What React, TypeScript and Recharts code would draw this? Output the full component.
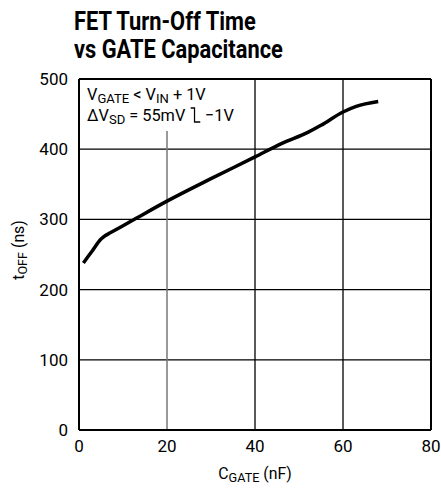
import React from "react";
import { LineChart, Line, XAxis, YAxis, CartesianGrid, ReferenceLine } from "recharts";

const cGate = [1, 3, 5, 6, 7, 12, 20, 30, 40, 46, 52, 55, 60, 63, 68];
const tOff = [238, 255, 272, 277, 280.5, 298, 326, 358, 389, 408, 424, 434, 453, 461, 468];
const xTicks = [0, 20, 40, 60, 80];
const yTicks = [0, 100, 200, 300, 400, 500];

const data = cGate.map((c, i) => ({ c, t: tOff[i] }));

const FONT = "'Roboto', 'Liberation Sans', sans-serif";

export default function App() {
  const sub: React.CSSProperties = { fontSize: "0.8em", verticalAlign: "-0.25em" };
  return (
    <div style={{ position: "absolute", left: 0, top: 0, width: 441, height: 492, background: "#fff", fontFamily: FONT, color: "#000" }}>
      <div style={{ position: "absolute", left: 74, top: 7, fontSize: 26, fontWeight: "bold", lineHeight: "28px", whiteSpace: "nowrap", transform: "scaleX(0.84)", transformOrigin: "0 0" }}>
        FET Turn-Off Time<br />vs GATE Capacitance
      </div>
      <LineChart width={441} height={492} data={data} margin={{ top: 79, right: 10, bottom: 32, left: 0 }}>
        <CartesianGrid vertical={false} horizontal={true} stroke="#000" strokeWidth={1.3} />
        <XAxis
          dataKey="c"
          type="number"
          domain={[0, 80]}
          ticks={xTicks}
          tickLine={false}
          axisLine={{ stroke: "#000", strokeWidth: 2 }}
          tick={{ fill: "#000", fontSize: 17, fontFamily: FONT }}
          tickMargin={4}
          height={30}
        />
        <YAxis
          type="number"
          domain={[0, 500]}
          ticks={yTicks}
          tickLine={false}
          axisLine={{ stroke: "#000", strokeWidth: 2 }}
          tick={{ fill: "#000", fontSize: 17, fontFamily: FONT }}
          tickMargin={5}
          width={79}
        />
        <ReferenceLine
          segment={[{ x: 20, y: 0 }, { x: 20, y: 426 }]}
          stroke="#777"
          strokeWidth={1.5}
        />
        <ReferenceLine x={40} stroke="#000" strokeWidth={1.3} />
        <ReferenceLine x={60} stroke="#000" strokeWidth={1.3} />
        <ReferenceLine x={80} stroke="#000" strokeWidth={2} />
        <ReferenceLine y={500} stroke="#000" strokeWidth={2} />
        <Line
          type="monotone"
          dataKey="t"
          stroke="#000"
          strokeWidth={3.5}
          dot={false}
          isAnimationActive={false}
        />
      </LineChart>
      <div style={{ position: "absolute", left: 87, top: 86, fontSize: 17, lineHeight: "17px", whiteSpace: "nowrap", transform: "scaleX(0.96)", transformOrigin: "0 0" }}>
        <div>
          V<span style={sub}>GATE</span> &lt; V<span style={sub}>IN</span> + 1V
        </div>
        <div>
          ΔV<span style={sub}>SD</span> = 55mV{" "}
          <svg width="12" height="16" style={{ verticalAlign: "-2px" }}>
            <path d="M1 1 H5 V15 H11" fill="none" stroke="#000" strokeWidth="1.3" />
          </svg>{" "}
          −1V
        </div>
      </div>
      <div style={{ position: "absolute", left: 255, top: 463, transform: "translateX(-50%) scaleX(0.93)", fontSize: 17, whiteSpace: "nowrap" }}>
        C<span style={sub}>GATE</span> (nF)
      </div>
      <div style={{ position: "absolute", left: 19, top: 250, transform: "translate(-50%, -50%) rotate(-90deg) scaleX(0.93)", fontSize: 17, whiteSpace: "nowrap" }}>
        t<span style={sub}>OFF</span> (ns)
      </div>
    </div>
  );
}
